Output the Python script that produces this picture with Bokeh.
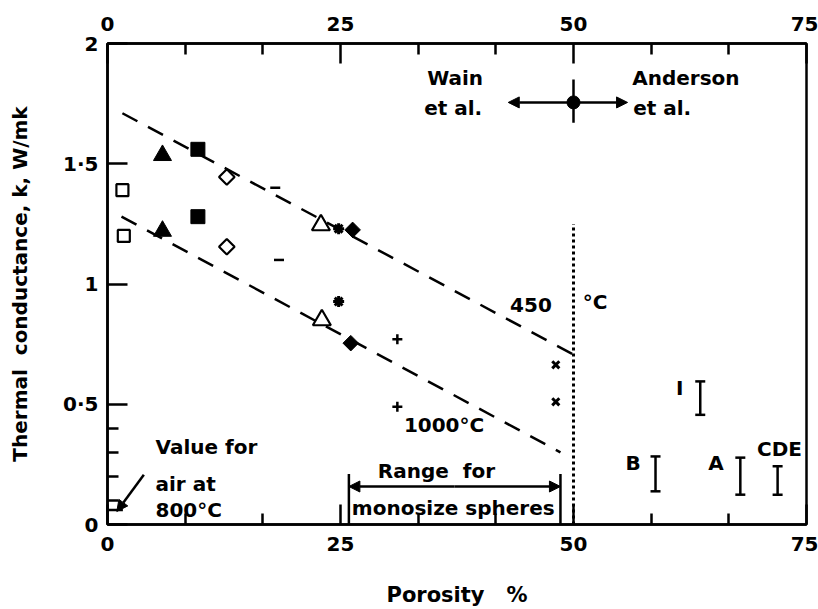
import math
from bokeh.plotting import figure
from bokeh.models import (Range1d, LinearAxis, FixedTicker, Arrow, NormalHead,
                          ColumnDataSource)
from bokeh.core.properties import value
from bokeh.embed import file_html
from bokeh.resources import INLINE

FONT = "DejaVu Sans"
NB = "\u00a0"

# ---------------- data (porosity %, thermal conductance k W/mK) ----------------
open_sq_x = [1.6, 1.75]
open_sq_k = [1.39, 1.20]
fill_tri_x = [5.9, 5.9]
fill_tri_k = [1.535, 1.22]
fill_sq_x = [9.7, 9.7]
fill_sq_k = [1.56, 1.28]
open_dia_x = [12.8, 12.8]
open_dia_k = [1.445, 1.155]
dash_x = [18.0, 18.4]
dash_k = [1.40, 1.10]
open_tri_x = [22.9, 23.0]
open_tri_k = [1.245, 0.85]
star_x = [24.8, 24.8]
star_k = [1.23, 0.927]
fill_dia_x = [26.3, 26.1]
fill_dia_k = [1.225, 0.754]
plus_x = [31.1, 31.1]
plus_k = [0.77, 0.49]
cross_x = [48.1, 48.1]
cross_k = [0.664, 0.51]

# dashed fit lines
fit450_x = [1.6, 50.8]
fit450_k = [1.71, 0.69]
fit1000_x = [1.5, 48.6]
fit1000_k = [1.28, 0.30]

# error bars on the right
bar_x = [58.8, 63.6, 67.9, 71.9]
bar_lo = [0.138, 0.456, 0.124, 0.124]
bar_hi = [0.283, 0.595, 0.278, 0.242]
bar_lab = ["B", "I", "A", "CDE"]
bar_lab_x = [56.4, 61.4, 65.3, 72.1]
bar_lab_k = [0.257, 0.568, 0.257, 0.315]

# Wain / Anderson point with ranges
wa_x = [50.0]
wa_k = [1.755]
wa_xlo, wa_xhi = 43.0, 55.8
wa_klo, wa_khi = 1.67, 1.85

# boundary (dotted) line
bound_x = [50.0, 50.0]
bound_k = [0.0, 1.25]

# range for monosize spheres
range_lo, range_hi = 25.9, 48.6
range_k = 0.158
range_bar_top = 0.21

# value for air arrow
air_x0, air_k0 = 3.9, 0.207
air_x1, air_k1 = 1.0, 0.054
air_val_x, air_val_k = [0.9], [0.06]

# axes
x_major = [0, 25, 50, 75]
x_minor = [8.333, 16.667, 33.333, 41.667, 58.333, 66.667]
k_major = [0, 0.5, 1, 1.5, 2]
k_minor = [0.1, 0.2, 0.3, 0.4]
k_labels = {0: "0", 0.5: "0·5", 1: "1", 1.5: "1·5", 2: "2"}

# annotation texts (vertically centred)
left_txt = ["Anderson", "et al.", "450", "°C", "1000°C", "Value" + NB + "for", "air at", "800°C"]
left_x = [56.3, 56.4, 43.2, 51.0, 31.8, 5.15, 5.15, 5.15]
left_k = [1.855, 1.73, 0.913, 0.925, 0.415, 0.322, 0.17, 0.062]
right_txt = ["Wain", "et al."]
right_x = [40.3, 40.2]
right_k = [1.855, 1.73]
center_txt = ["Range" + NB + NB + "for", "monosize spheres"]
center_x = [35.3, 37.1]
center_k = [0.224, 0.07]

# ---------------- figure ----------------
p = figure(width=818, height=609, x_range=Range1d(0, 75), y_range=Range1d(0, 2),
           output_backend="svg", toolbar_location=None,
           x_axis_location=None, y_axis_location=None,
           min_border_left=107, min_border_right=12, min_border_top=43,
           min_border_bottom=84)
p.outline_line_color = "black"
p.outline_line_width = 2.5
p.background_fill_color = "white"
p.border_fill_color = "white"
p.xgrid.visible = False
p.ygrid.visible = False
p.grid.visible = False


def style(ax, size="20px"):
    ax.axis_line_width = 2.5
    ax.axis_line_color = "black"
    ax.major_tick_line_width = 2.5
    ax.minor_tick_line_width = 2.5
    ax.major_tick_line_color = "black"
    ax.minor_tick_line_color = "black"
    ax.major_tick_out = 0
    ax.minor_tick_out = 0
    ax.major_tick_in = 20
    ax.minor_tick_in = 11
    ax.major_label_text_font = FONT
    ax.major_label_text_font_size = size
    ax.major_label_text_font_style = "bold"
    ax.major_label_text_color = "black"
    ax.axis_label_text_font = FONT
    ax.axis_label_text_font_style = "bold"
    ax.axis_label_text_color = "black"


bottom = LinearAxis(ticker=FixedTicker(ticks=x_major, minor_ticks=x_minor))
style(bottom)
bottom.major_label_standoff = 12
bottom.axis_label = "Porosity" + NB * 3 + "%"
bottom.axis_label_text_font_size = "21px"
bottom.axis_label_standoff = 29
p.add_layout(bottom, "below")

top = LinearAxis(ticker=FixedTicker(ticks=x_major, minor_ticks=x_minor))
style(top)
top.major_label_standoff = 13
p.add_layout(top, "above")

left = LinearAxis(ticker=FixedTicker(ticks=k_major, minor_ticks=k_minor),
                  major_label_overrides=k_labels)
style(left)
left.major_label_standoff = 9
left.axis_label = "Thermal" + NB * 2 + "conductance, k, W/mk"
left.axis_label_text_font_size = "20px"
left.axis_label_standoff = 28
p.add_layout(left, "left")

# ---------------- fit lines ----------------
p.line(fit450_x, fit450_k, line_color="black", line_width=2.5, line_dash="17 12")
p.line(fit1000_x, fit1000_k, line_color="black", line_width=2.5, line_dash="17 12")
p.line(bound_x, bound_k, line_color="black", line_width=3, line_dash="3 3")

# ---------------- markers ----------------
rot = math.pi / 4
p.scatter(open_sq_x, open_sq_k, marker="square", size=12, fill_color="white",
          line_color="black", line_width=2.2)
p.scatter(fill_tri_x, fill_tri_k, marker="triangle", size=18, fill_color="black",
          line_color="black")
p.scatter(fill_sq_x, fill_sq_k, marker="square", size=14, fill_color="black",
          line_color="black")
p.scatter(open_dia_x, open_dia_k, marker="square", angle=rot, size=11, fill_color="white",
          line_color="black", line_width=2.2)
p.scatter(dash_x, dash_k, marker="dash", size=10, line_color="black", line_width=2.5)
p.scatter(open_tri_x, open_tri_k, marker="triangle", size=18, fill_color="white",
          line_color="black", line_width=2.2)
p.scatter(star_x, star_k, marker="asterisk", size=11, line_color="black", line_width=3)
p.scatter(fill_dia_x, fill_dia_k, marker="square", angle=rot, size=11, fill_color="black",
          line_color="black")
p.scatter(plus_x, plus_k, marker="cross", size=10, line_color="black", line_width=2.5)
p.scatter(cross_x, cross_k, marker="x", size=10, line_color="black", line_width=3)

# ---------------- error bars ----------------
p.segment(x0=bar_x, y0=bar_lo, x1=bar_x, y1=bar_hi, line_color="black", line_width=2.5)
p.scatter(bar_x, bar_lo, marker="dash", size=10, line_color="black", line_width=2.5)
p.scatter(bar_x, bar_hi, marker="dash", size=10, line_color="black", line_width=2.5)
p.text(bar_lab_x, bar_lab_k, text=bar_lab, text_font=value(FONT),
       text_font_size=value("20px"), text_font_style="bold", text_align="center",
       text_baseline="middle", text_color="black")

# ---------------- Wain / Anderson ----------------
p.segment(x0=wa_x, y0=[wa_klo], x1=wa_x, y1=[wa_khi], line_color="black", line_width=2.5)
p.scatter(wa_x, wa_k, marker="circle", size=13, fill_color="black", line_color="black")
arr_src = ColumnDataSource(dict(
    x0=[wa_x[0], wa_x[0], (range_lo + range_hi) / 2, (range_lo + range_hi) / 2, air_x0],
    y0=[wa_k[0], wa_k[0], range_k, range_k, air_k0],
    x1=[wa_xlo, wa_xhi, range_lo, range_hi, air_x1],
    y1=[wa_k[0], wa_k[0], range_k, range_k, air_k1],
))
p.add_layout(Arrow(x_start="x0", y_start="y0", x_end="x1", y_end="y1", source=arr_src,
                   line_color="black", line_width=2.5,
                   end=NormalHead(size=11, fill_color="black", line_color="black")))

# range for monosize spheres end bars
p.segment(x0=[range_lo, range_hi], y0=[0, 0], x1=[range_lo, range_hi],
          y1=[range_bar_top, range_bar_top], line_color="black", line_width=2.5)

# value for air
p.scatter(air_val_x, air_val_k, marker="dash", size=14, line_color="black", line_width=2.5)

# ---------------- texts ----------------
common = dict(text_font=value(FONT), text_font_size=value("20px"), text_font_style="bold",
              text_baseline="middle", text_color="black")
p.text(left_x, left_k, text=left_txt, text_align="left", **common)
p.text(right_x, right_k, text=right_txt, text_align="right", **common)
p.text(center_x, center_k, text=center_txt, text_align="center", **common)

open("out.html", "w").write(file_html(p, INLINE))
